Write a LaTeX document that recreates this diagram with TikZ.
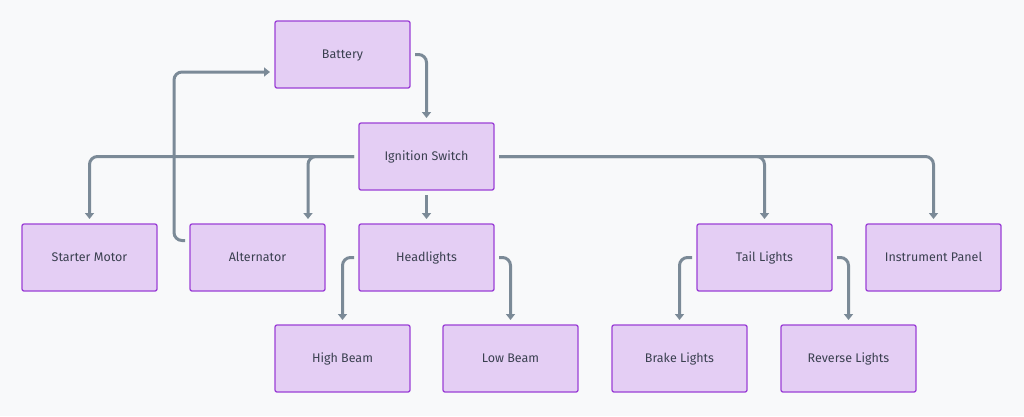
\documentclass[tikz,border=0pt]{standalone}
\usepackage{fontspec}
\setmainfont{Fira Sans}
\usetikzlibrary{arrows.meta,calc}
\definecolor{bg}{HTML}{F8F9FA}
\definecolor{nodefill}{HTML}{E4CEF4}
\definecolor{nodeline}{HTML}{9B40D6}
\definecolor{edgecol}{HTML}{7B8A97}
\definecolor{txt}{HTML}{3A4050}
\begin{document}
\begin{tikzpicture}[x=1pt,y=-1pt,
 box/.style={draw=nodeline, fill=nodefill, line width=1.3pt, rounded corners=2pt, minimum width=135pt, minimum height=67pt, inner sep=0pt, outer sep=5pt, text=txt, text height=7pt, text depth=0pt, font=\fontsize{12.5}{14}\selectfont},
 link/.style={draw=edgecol, line width=3pt, rounded corners=8pt, -{Triangle[length=6pt,width=9pt]}}]
\fill[bg] (0,0) rectangle (1024,416);
\useasboundingbox (0,0) rectangle (1024,416);

\node[box] (bat) at (342.5,54.5) {Battery};
\node[box] (ign) at (426.5,156.5) {Ignition Switch};
\node[box] (sm) at (89.5,257.5) {Starter Motor};
\node[box] (alt) at (257.5,257.5) {Alternator};
\node[box] (hl) at (426.5,257.5) {Headlights};
\node[box] (tl) at (764.5,257.5) {Tail Lights};
\node[box] (ip) at (933.5,257.5) {Instrument Panel};
\node[box] (hb) at (342.5,358.5) {High Beam};
\node[box] (lb) at (510.5,358.5) {Low Beam};
\node[box] (bl) at (679.5,358.5) {Brake Lights};
\node[box] (rl) at (848.5,358.5) {Reverse Lights};

\draw[link] (bat.east) -| (ign.north);
\draw[link] (ign.west) -| (sm.north);
\draw[link] (ign.west) -| ([xshift=50.5pt]alt.north);
\draw[link] (ign.south) -- (hl.north);
\draw[link] (ign.east) -| (tl.north);
\draw[link] (ign.east) -| (ip.north);
\draw[link] ([yshift=17pt]alt.west) -| (174,72) -- ([yshift=-17.5pt]bat.west);
\draw[link] (hl.west) -| (hb.north);
\draw[link] (hl.east) -| (lb.north);
\draw[link] (tl.west) -| (bl.north);
\draw[link] (tl.east) -| (rl.north);
\end{tikzpicture}
\end{document}
